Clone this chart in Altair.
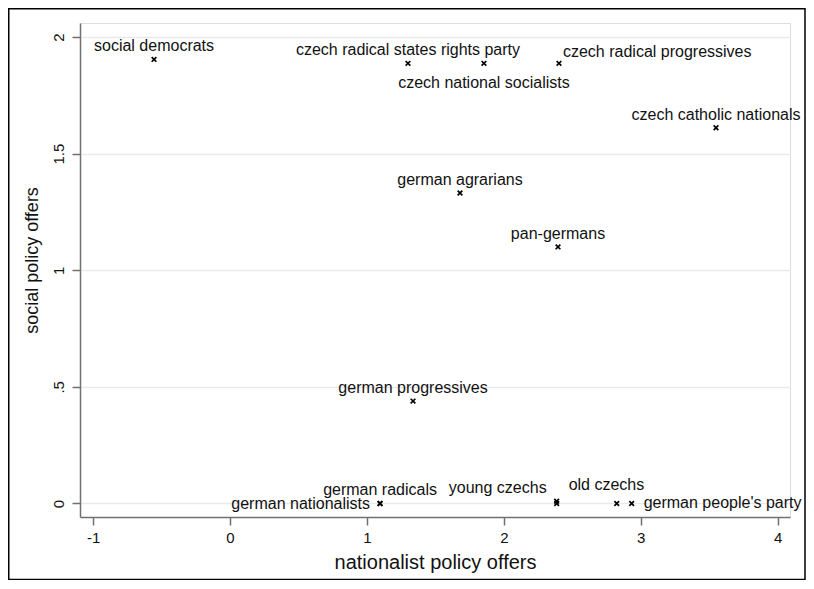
import altair as alt
import pandas as pd

# ---- data ----
parties = [
    "social democrats",
    "czech radical states rights party",
    "czech national socialists",
    "czech radical progressives",
    "czech catholic nationals",
    "german agrarians",
    "pan-germans",
    "german progressives",
    "german nationalists",
    "german radicals",
    "young czechs",
    "old czechs",
    "",
    "german people's party",
]
nationalist = [-0.555, 1.300, 1.855, 2.403, 3.550, 1.680, 2.396, 1.337,
               1.096, 1.096, 2.386, 2.386, 2.825, 2.934]
social = [1.904, 1.887, 1.887, 1.887, 1.611, 1.331, 1.100, 0.439,
          0.0, 0.0, 0.0, 0.010, 0.0, 0.0]
# label clock positions (Stata style); 0 = no label
label_pos = [12, 12, 6, 2, 12, 12, 12, 12, 9, 12, 11, 1, 0, 3]

x_ticks = [-1, 0, 1, 2, 3, 4]
y_ticks = [0, 0.5, 1, 1.5, 2]

df = pd.DataFrame({
    "party": parties,
    "nationalist": nationalist,
    "social": social,
    "pos": label_pos,
})

FONT = "Liberation Sans"
AX = "#707070"

x_axis = alt.Axis(
    values=x_ticks, title="nationalist policy offers", grid=False,
    labelExpr="toString(datum.value)",
    domainColor=AX, domainWidth=1.5, tickColor=AX, tickWidth=1.5, tickSize=8,
    labelFontSize=15, labelFont=FONT, labelColor="#111", labelPadding=5,
    titleFontSize=20, titleFont=FONT, titleFontWeight="normal", titleColor="#111",
    titleX=355, titleY=45, titleBaseline="middle", titleAlign="center",
)
y_axis = alt.Axis(
    values=y_ticks, title="social policy offers", grid=True,
    gridColor="#e9e9e9", gridWidth=1.5,
    labelExpr="datum.value == 0.5 ? '.5' : toString(datum.value)",
    labelAngle=270, labelAlign="center", labelBaseline="alphabetic",
    domainColor=AX, domainWidth=1.5, tickColor=AX, tickWidth=1.5, tickSize=8,
    labelFontSize=15, labelFont=FONT, labelColor="#111", labelPadding=9,
    titleFontSize=18, titleFont=FONT, titleFontWeight="normal", titleColor="#111",
    titleAngle=270, titleX=-48, titleY=237, titleBaseline="middle", titleAlign="center",
)

x_scale = alt.Scale(domain=[-1.0957, 4.0906], nice=False, zero=False)
y_scale = alt.Scale(domain=[-0.0579, 2.060], nice=False, zero=False)

x_enc = alt.X("nationalist:Q", scale=x_scale, axis=x_axis)
y_enc = alt.Y("social:Q", scale=y_scale, axis=y_axis)

base = alt.Chart(df)

points = base.mark_point(
    shape="M-1,-1L1,1M-1,1L1,-1", filled=False, size=22,
    strokeWidth=1.7, color="black", opacity=1,
).encode(x=x_enc, y=y_enc)

offsets = {
    12: dict(align="center", dx=0, dy=-13),
    6: dict(align="center", dx=0, dy=20),
    2: dict(align="left", dx=4, dy=-11),
    1: dict(align="left", dx=12, dy=-16),
    11: dict(align="right", dx=-10, dy=-15),
    9: dict(align="right", dx=-10, dy=1),
    3: dict(align="left", dx=12, dy=0),
}

layers = [points]
for p, off in offsets.items():
    layers.append(
        base.transform_filter(alt.datum.pos == p)
        .mark_text(baseline="middle", fontSize=16, font=FONT, color="#111", **off)
        .encode(x=x_enc, y=y_enc, text="party:N")
    )

frame = alt.Chart(pd.DataFrame({"k": [0]})).mark_rect(
    fillOpacity=0, stroke="black", strokeWidth=1.5
).encode(
    x=alt.value(-71.25), x2=alt.value(725),
    y=alt.value(-14.25), y2=alt.value(556.5),
)
layers.append(frame)

chart = alt.layer(*layers).properties(
    width=710, height=494,
    autosize=alt.AutoSizeParams(type="none"),
    padding={"left": 72, "top": 15, "right": 16, "bottom": 63},
).configure_view(strokeWidth=0).configure(background="white")

chart.save("out.html", embed_options={"renderer": "svg", "actions": False})
